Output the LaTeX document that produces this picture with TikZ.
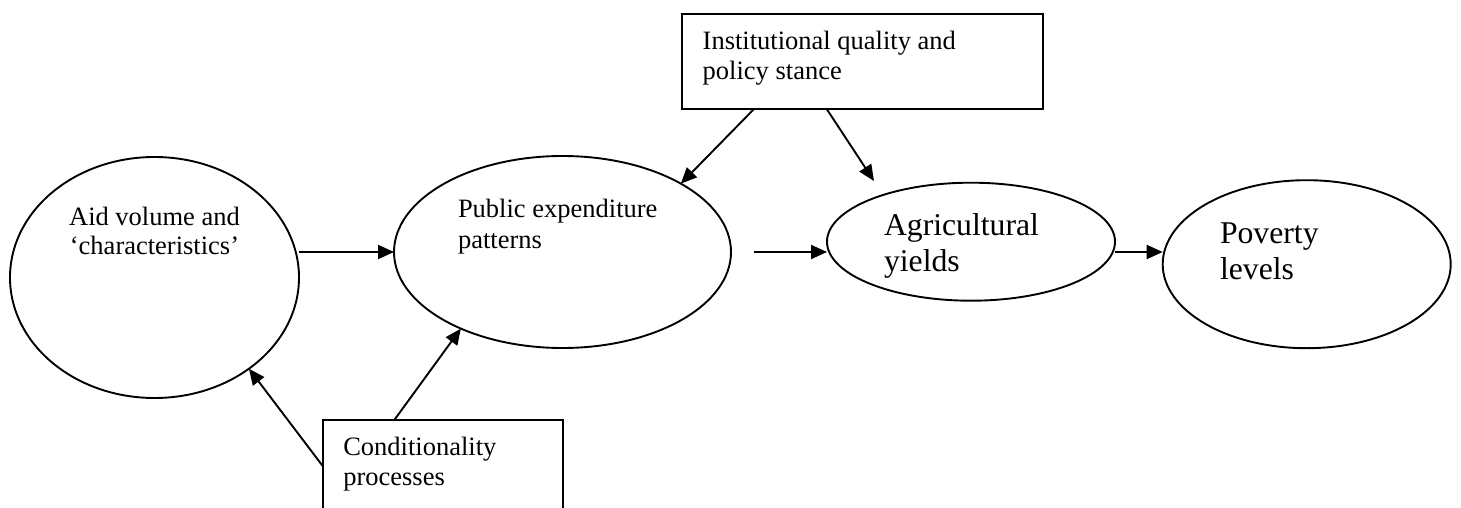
\documentclass[tikz,border=0pt]{standalone}
\usepackage{fontspec}
\setmainfont{Liberation Serif}
\usetikzlibrary{arrows.meta,shapes.geometric}
\begin{document}
\begin{tikzpicture}[x=1pt,y=-1pt,
  ell/.style={draw, ellipse, line width=1.9pt, inner sep=0pt, outer sep=0pt},
  boxnode/.style={draw, rectangle, line width=2.2pt, inner sep=0pt, outer sep=0pt, anchor=north west},
  txt/.style={inner sep=0pt, outer sep=0pt, anchor=base west},
  arr/.style={line width=1.9pt, -{Triangle[length=16pt,width=14pt]}}
]
\useasboundingbox (0,0) rectangle (1461,508);
\fill[white] (0,0) rectangle (1461,508);

% ellipses
\node[ell, minimum width=289pt, minimum height=241pt] (aid) at (154.5,277.5) {};
\node[ell, minimum width=337pt, minimum height=192pt] (pub) at (562.5,252) {};
\node[ell, minimum width=288pt, minimum height=118pt] (agri) at (971,241.7) {};
\node[ell, minimum width=288pt, minimum height=168pt] (pov) at (1306.7,264.2) {};

% boxes
\node[boxnode, minimum width=360.4pt, minimum height=95pt] (inst) at (682.3,14) {};
\node[boxnode, minimum width=240pt, minimum height=92pt] (cond) at (322.7,420) {};

% texts
\node[txt, anchor=base] (aidtxt) at (154.5,225) {\parbox[t]{230pt}{\centering\fontsize{26.5}{29.3}\selectfont Aid volume and\\‘characteristics’}};
\node[txt] (pubtxt) at (458,217.3) {\parbox[t]{300pt}{\raggedright\fontsize{26.5}{31}\selectfont Public expenditure\\patterns}};
\node[txt] (insttxt) at (702.7,50) {\parbox[t]{330pt}{\raggedright\fontsize{26.5}{30}\selectfont Institutional quality and\\policy stance}};
\node[txt] (condtxt) at (343.3,455) {\parbox[t]{210pt}{\raggedright\fontsize{26.5}{30}\selectfont Conditionality\\processes}};
\node[txt] (agritxt) at (884,235.5) {\parbox[t]{200pt}{\raggedright\fontsize{31.7}{36.2}\selectfont Agricultural\\yields}};
\node[txt] (povtxt) at (1220,243.3) {\parbox[t]{200pt}{\raggedright\fontsize{31.7}{36}\selectfont Poverty\\levels}};

% connectors
\draw[arr] (pub.west -| aid.east) -- (pub.west);
\draw[arr] ([xshift=23pt]pub.east) -- (agri.west |- pub.east);
\draw[arr] (agri.east |- pub.east) -- (pov.west |- pub.east);
\coordinate (tip2) at (874,181);
\draw[arr] ([xshift=-108.5pt]inst.south) -- (pub.30);
\draw[arr] ([xshift=-35.8pt]inst.south) -- (tip2);
\draw[arr] (cond.west) -- (aid.-44);
\draw[arr] ([xshift=-48.4pt]cond.north) -- (pub.-143);
\end{tikzpicture}
\end{document}
